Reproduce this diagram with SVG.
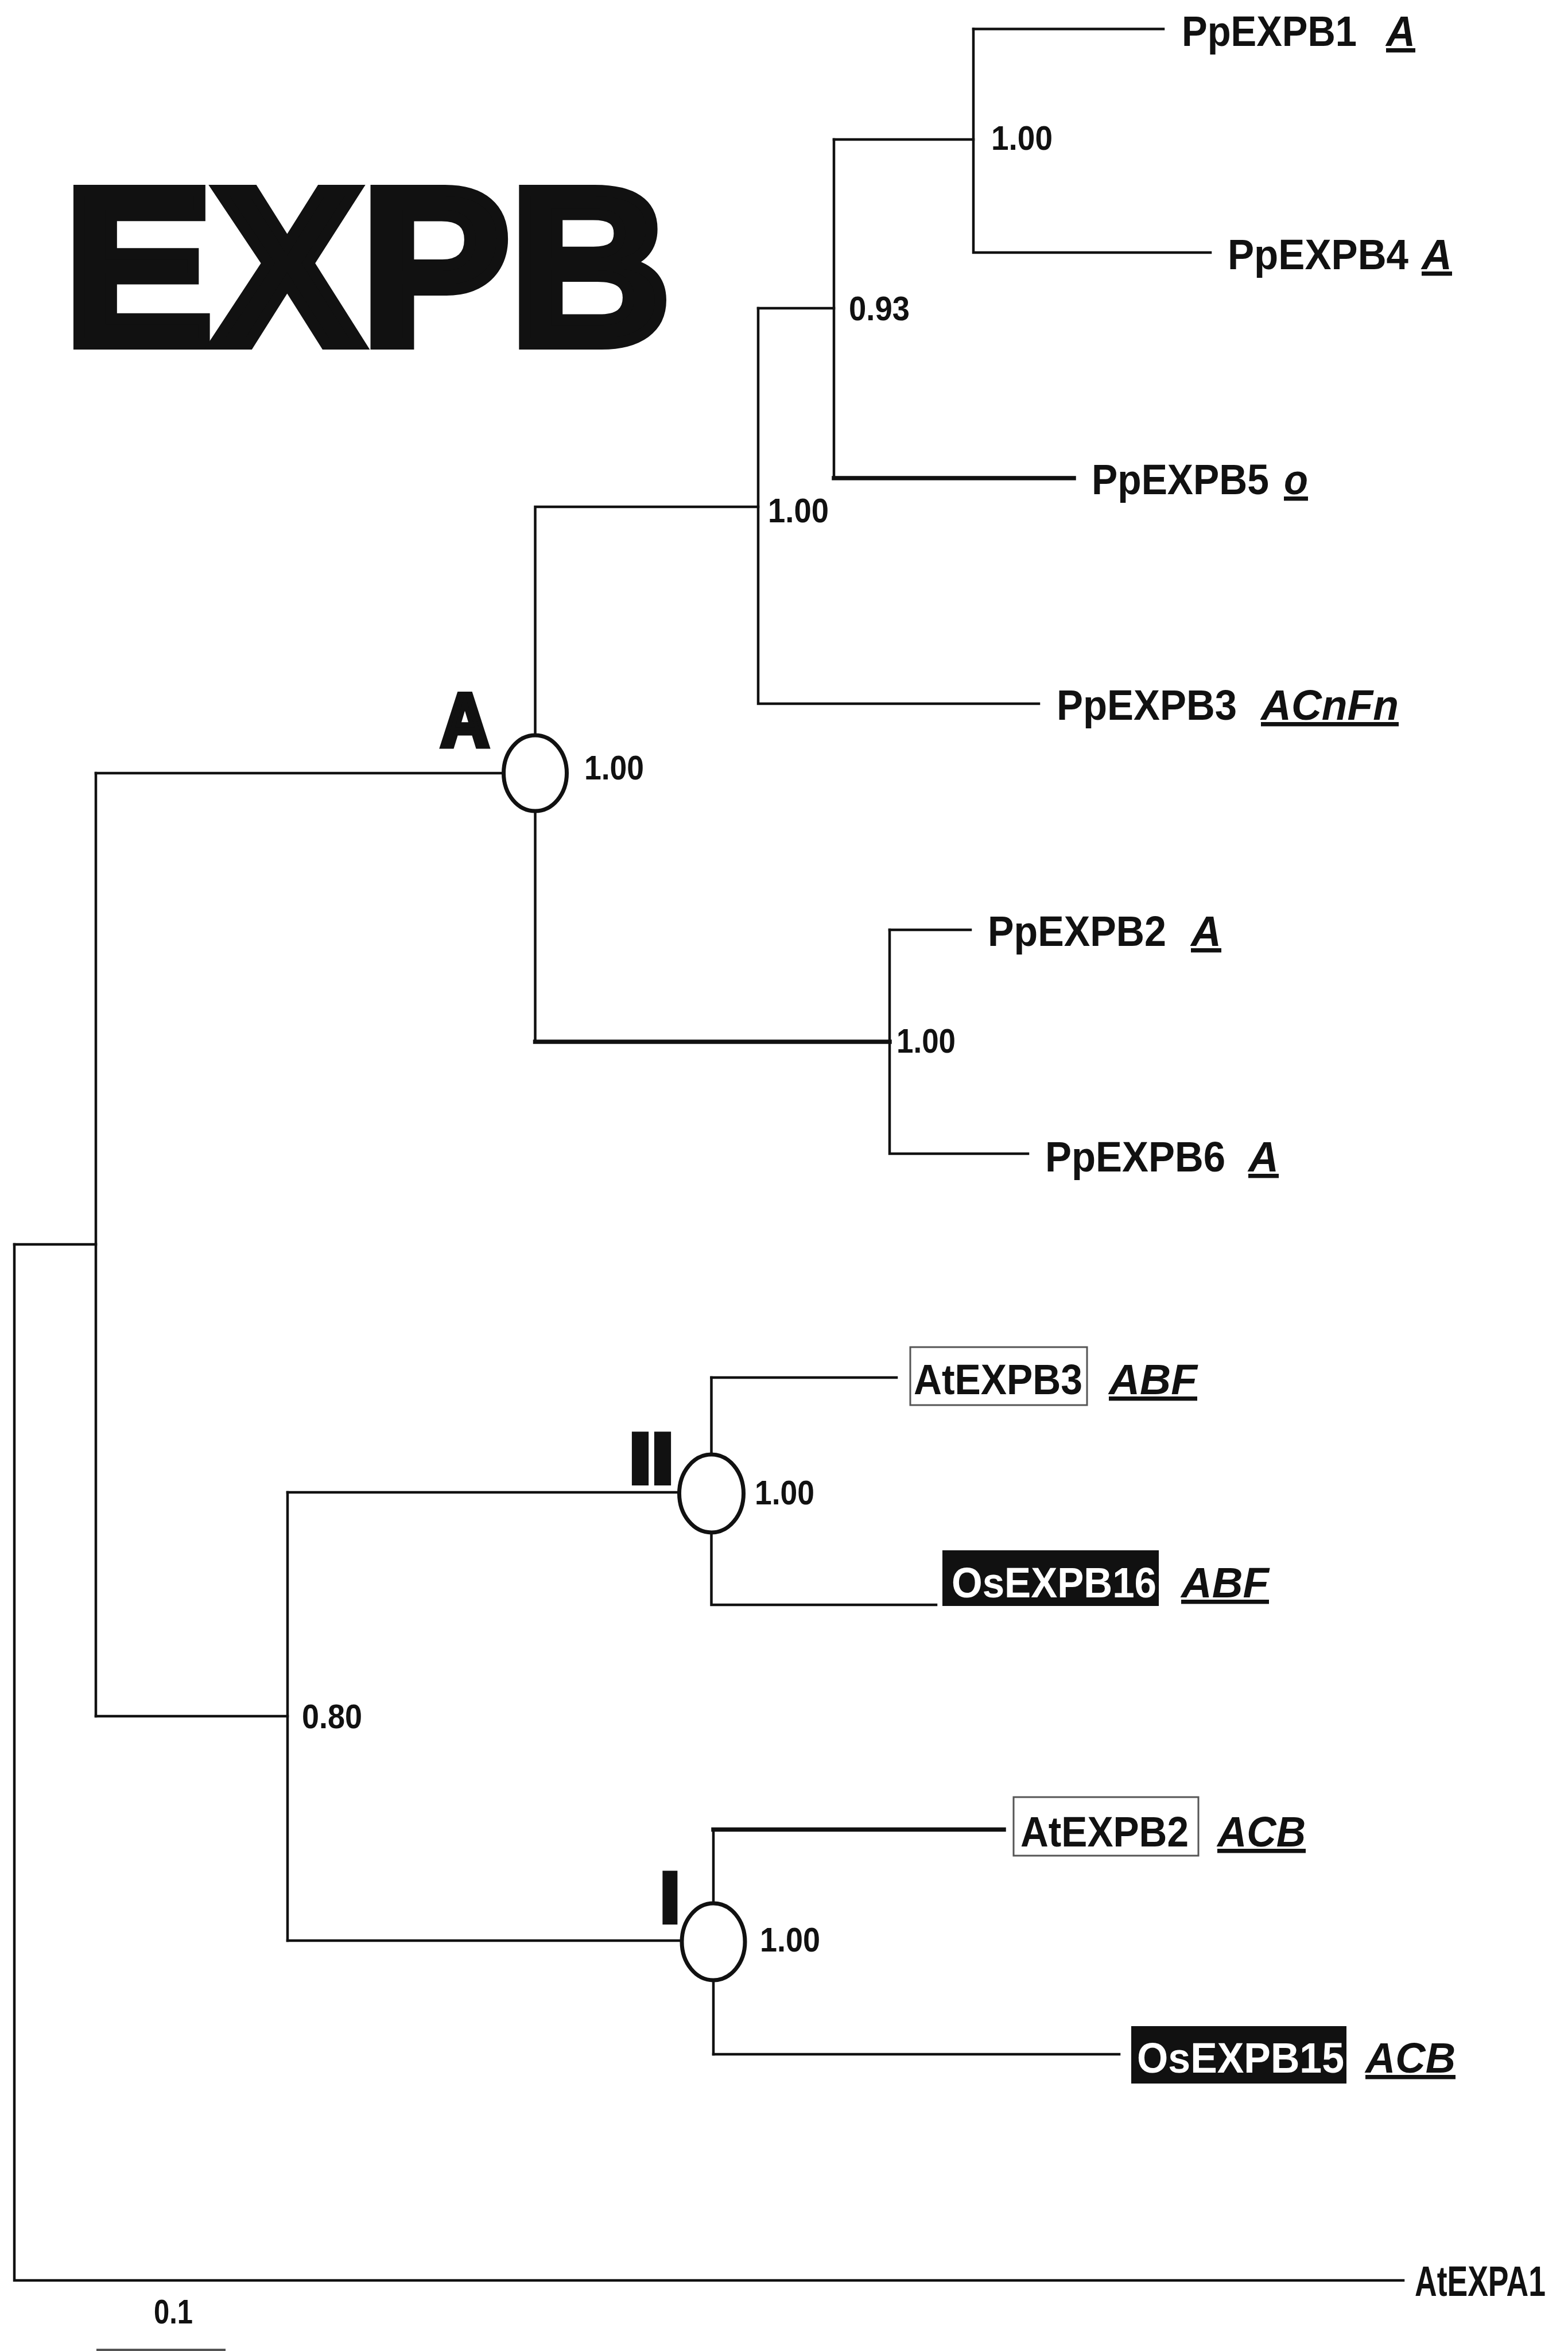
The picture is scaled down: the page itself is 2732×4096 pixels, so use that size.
<svg xmlns="http://www.w3.org/2000/svg" width="2732" height="4096" viewBox="0 0 2732 4096">
<style>
.ln{stroke:#111;stroke-width:4.5;fill:none;stroke-linecap:square}
.thk{stroke-width:7.5}
.node{fill:#fff;stroke:#111;stroke-width:7}
.lbl{font-family:"Liberation Sans",Arial,sans-serif;font-weight:bold;font-size:74px;fill:#111}
.ann{font-family:"Liberation Sans",Arial,sans-serif;font-weight:bold;font-style:italic;font-size:74px;fill:#111;text-decoration:underline}
.sup{font-family:"Liberation Sans",Arial,sans-serif;font-weight:bold;font-size:60px;fill:#111}
.big{font-family:"Liberation Sans",Arial,sans-serif;font-weight:bold;fill:#111;stroke:#111;stroke-linejoin:miter}
.box{fill:#fff;stroke:#555;stroke-width:3}
.blk{fill:#111}
.wht{fill:#fff}
</style>
<rect width="2732" height="4096" fill="#fff"/>
<g id="title"><text class="big" x="112" y="599" font-size="388" stroke-width="20">EXPB</text></g>
<g id="connectors">
<path class="ln" d="M25,2168 V3973 H2445"/>
<path class="ln" d="M25,2168 H167"/>
<path class="ln" d="M167,1347 V2990"/>
<path class="ln" d="M167,1347 H880"/>
<path class="ln" d="M932.5,1347 V883 H1321"/>
<path class="ln" d="M1321,537 V1226 H1810"/>
<path class="ln" d="M1321,537 H1453"/>
<path class="ln" d="M1453,243 V833"/>
<path class="ln thk" d="M1453,833 H1871"/>
<path class="ln" d="M1453,243 H1696"/>
<path class="ln" d="M1696,50.5 V440 H2109"/>
<path class="ln" d="M1696,50.5 H2027"/>
<path class="ln" d="M932.5,1347 V1815"/>
<path class="ln thk" d="M932.5,1815 H1550"/>
<path class="ln" d="M1550,1620 V2010 H1791"/>
<path class="ln" d="M1550,1620 H1691"/>
<path class="ln" d="M167,2990 H501"/>
<path class="ln" d="M501,2600 V3381"/>
<path class="ln" d="M501,2600 H1190"/>
<path class="ln" d="M501,3381 H1195"/>
<path class="ln" d="M1239.5,2400 V2796 H1631"/>
<path class="ln" d="M1239.5,2400 H1562"/>
<path class="ln" d="M1243,3579 V3187.5"/>
<path class="ln thk" d="M1243,3187.5 H1749"/>
<path class="ln" d="M1243,3579 H1950"/>
</g>
<g id="node-A">
<ellipse class="node" cx="932.5" cy="1347" rx="55" ry="66"/>
<text class="big" x="768" y="1300" font-size="132" stroke-width="9" textLength="84" lengthAdjust="spacingAndGlyphs">A</text>
<text class="sup" x="1018" y="1358" textLength="104" lengthAdjust="spacingAndGlyphs">1.00</text>
</g>
<g id="node-II">
<ellipse class="node" cx="1239.5" cy="2602" rx="56" ry="68"/>
<text class="big" x="1096" y="2584" font-size="125" stroke-width="8" textLength="78" lengthAdjust="spacingAndGlyphs">II</text>
<text class="sup" x="1315" y="2621" textLength="104" lengthAdjust="spacingAndGlyphs">1.00</text>
</g>
<g id="node-I">
<ellipse class="node" cx="1243" cy="3383" rx="55" ry="67"/>
<text class="big" x="1150" y="3349" font-size="125" stroke-width="8">I</text>
<text class="sup" x="1324" y="3400" textLength="105" lengthAdjust="spacingAndGlyphs">1.00</text>
</g>
<g id="support">
<text class="sup" x="1727" y="261" textLength="107" lengthAdjust="spacingAndGlyphs">1.00</text>
<text class="sup" x="1479" y="558" textLength="106" lengthAdjust="spacingAndGlyphs">0.93</text>
<text class="sup" x="1338" y="910" textLength="106" lengthAdjust="spacingAndGlyphs">1.00</text>
<text class="sup" x="1562" y="1834" textLength="103" lengthAdjust="spacingAndGlyphs">1.00</text>
<text class="sup" x="526" y="3011" font-size="54" textLength="105" lengthAdjust="spacingAndGlyphs">0.80</text>
</g>
<g id="leaf-PpEXPB1"><text class="lbl" x="2059" y="80" textLength="305" lengthAdjust="spacingAndGlyphs">PpEXPB1</text><text class="ann" x="2415" y="80" textLength="51" lengthAdjust="spacingAndGlyphs">A</text></g>
<g id="leaf-PpEXPB4"><text class="lbl" x="2139" y="469" textLength="315" lengthAdjust="spacingAndGlyphs">PpEXPB4</text><text class="ann" x="2477" y="469" textLength="53" lengthAdjust="spacingAndGlyphs">A</text></g>
<g id="leaf-PpEXPB5"><text class="lbl" x="1902" y="861" textLength="309" lengthAdjust="spacingAndGlyphs">PpEXPB5</text><text class="ann" x="2237" y="861" textLength="42" lengthAdjust="spacingAndGlyphs">o</text></g>
<g id="leaf-PpEXPB3"><text class="lbl" x="1841" y="1254" textLength="314" lengthAdjust="spacingAndGlyphs">PpEXPB3</text><text class="ann" x="2197" y="1254" textLength="240" lengthAdjust="spacingAndGlyphs">ACnFn</text></g>
<g id="leaf-PpEXPB2"><text class="lbl" x="1721" y="1648" textLength="311" lengthAdjust="spacingAndGlyphs">PpEXPB2</text><text class="ann" x="2075" y="1648" textLength="53" lengthAdjust="spacingAndGlyphs">A</text></g>
<g id="leaf-PpEXPB6"><text class="lbl" x="1821" y="2041" textLength="314" lengthAdjust="spacingAndGlyphs">PpEXPB6</text><text class="ann" x="2175" y="2041" textLength="53" lengthAdjust="spacingAndGlyphs">A</text></g>
<g id="leaf-AtEXPB3"><rect class="box" x="1586" y="2347" width="308" height="101"/><text class="lbl" x="1592" y="2429" textLength="294" lengthAdjust="spacingAndGlyphs">AtEXPB3</text><text class="ann" x="1932" y="2429" textLength="154" lengthAdjust="spacingAndGlyphs">ABF</text></g>
<g id="leaf-OsEXPB16"><rect class="blk" x="1642" y="2701" width="377" height="97"/><text class="lbl wht" x="1658" y="2783" textLength="357" lengthAdjust="spacingAndGlyphs">OsEXPB16</text><text class="ann" x="2058" y="2783" textLength="153" lengthAdjust="spacingAndGlyphs">ABF</text></g>
<g id="leaf-AtEXPB2"><rect class="box" x="1766" y="3131" width="322" height="102"/><text class="lbl" x="1778" y="3217" textLength="293" lengthAdjust="spacingAndGlyphs">AtEXPB2</text><text class="ann" x="2121" y="3217" textLength="154" lengthAdjust="spacingAndGlyphs">ACB</text></g>
<g id="leaf-OsEXPB15"><rect class="blk" x="1971" y="3530" width="375" height="100"/><text class="lbl wht" x="1981" y="3611" textLength="361" lengthAdjust="spacingAndGlyphs">OsEXPB15</text><text class="ann" x="2379" y="3611" textLength="157" lengthAdjust="spacingAndGlyphs">ACB</text></g>
<g id="leaf-AtEXPA1"><text class="lbl" x="2465" y="4000" font-size="57" textLength="228" lengthAdjust="spacingAndGlyphs">AtEXPA1</text></g>
<g id="scale">
<text class="sup" x="268" y="4048" font-size="64" textLength="68" lengthAdjust="spacingAndGlyphs">0.1</text>
<line x1="168" y1="4094" x2="393" y2="4094" stroke="#555" stroke-width="4"/>
</g>
</svg>
